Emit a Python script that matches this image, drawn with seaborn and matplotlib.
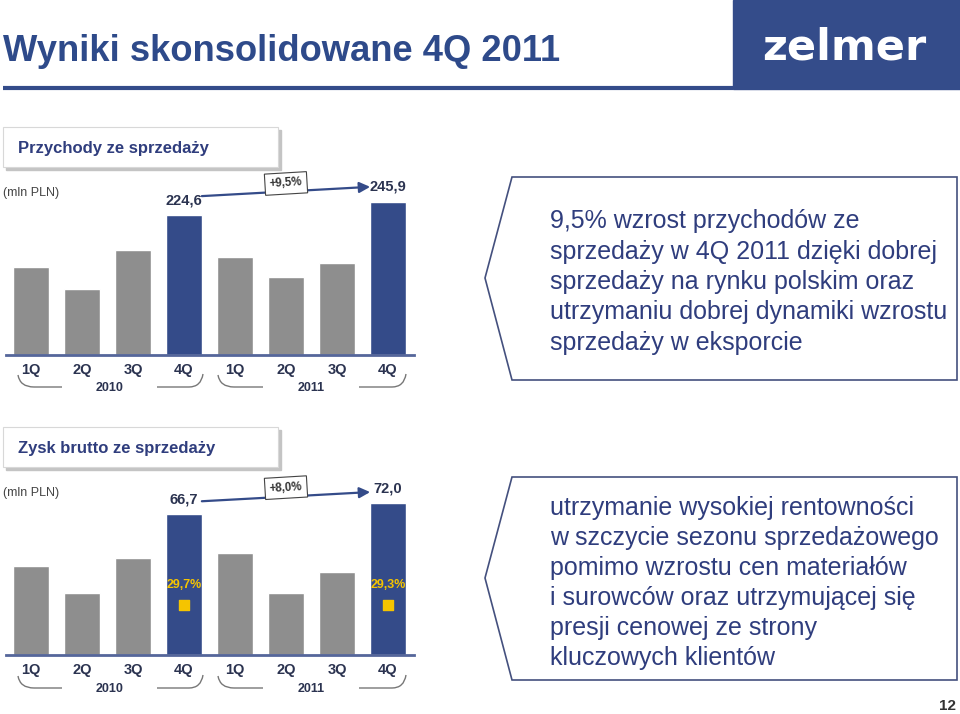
import numpy as np
import pandas as pd
import matplotlib
matplotlib.use('Agg')
import matplotlib.pyplot as plt
import matplotlib.patches as mpatches
from matplotlib.path import Path
import seaborn as sns

# data
periods = ['1Q 2010', '2Q 2010', '3Q 2010', '4Q 2010', '1Q 2011', '2Q 2011', '3Q 2011', '4Q 2011']
quarters = ['1Q', '2Q', '3Q', '4Q', '1Q', '2Q', '3Q', '4Q']
years = ['2010', '2011']
revenue = [141, 106, 168, 224.6, 158, 125, 148, 245.9]
gross_profit = [42.2, 29.2, 46.1, 66.7, 48.2, 29.5, 39.5, 72.0]
gross_margin_4q = [29.7, 29.3]
rev_growth = '+9,5%'
gp_growth = '+8,0%'

BLUE = '#344b89'
GRAY = '#8e8e8e'
TXT = '#2f3d7d'
DARK = '#2b3350'
YELLOW = '#f5c400'

sns.set_style('white')
plt.rcParams['font.family'] = ['Liberation Sans', 'DejaVu Sans']

fig = plt.figure(figsize=(9.6, 7.14), dpi=100)

# page-level overlay in pixel coordinates
ov = fig.add_axes([0, 0, 1, 1])
ov.set_xlim(0, 960)
ov.set_ylim(714, 0)
ov.axis('off')

ov.text(3, 61, 'Wyniki skonsolidowane 4Q 2011', fontsize=26.2, fontweight='bold',
        color='#2e4a8a', va='baseline')
ov.plot([3, 733], [88, 88], color='#344c8a', lw=3, solid_capstyle='butt')
ov.add_patch(mpatches.Rectangle((733, 0), 227, 89, color='#344c8a'))
ov.text(844, 47, 'zelmer', fontsize=31, fontweight='bold', color='white',
        ha='center', va='center', family='DejaVu Sans')

palette = [BLUE if p.startswith('4Q') else GRAY for p in periods]


def header(y0, label):
    ov.add_patch(mpatches.Rectangle((6, y0 + 3), 275, 40, color='#c4c4c4', zorder=1))
    ov.add_patch(mpatches.Rectangle((3, y0), 275, 40, facecolor='white',
                                    edgecolor='#d8d8d8', lw=0.8, zorder=2))
    ov.text(18, y0 + 21, label, fontsize=12, fontweight='bold', color=TXT,
            va='center', zorder=3)
    ov.text(3, y0 + 66, '(mln PLN)', fontsize=9, color='#444444', va='center')


def brackets(yb):
    for x0, x1, x2, x3, yr in [(18, 62, 157, 203, years[0]), (218, 263, 359, 406, years[1])]:
        verts = [(x0, yb - 12), (x0 + 2, yb), (x0 + 16, yb), (x1, yb)]
        codes = [Path.MOVETO, Path.CURVE3, Path.CURVE3, Path.LINETO]
        ov.add_patch(mpatches.PathPatch(Path(verts, codes), fill=False, ec='#777777', lw=1))
        verts = [(x2, yb), (x3 - 14, yb), (x3 - 2, yb), (x3, yb - 13)]
        codes = [Path.MOVETO, Path.LINETO, Path.CURVE3, Path.CURVE3]
        ov.add_patch(mpatches.PathPatch(Path(verts, codes), fill=False, ec='#777777', lw=1))
        ov.text((x1 + x2) / 2, yb + 1, yr, fontsize=9, fontweight='bold', color=DARK,
                ha='center', va='center')


def bar_chart(rect, values, ymax, growth, start_off, end_off, box_off):
    ax = fig.add_axes(rect)
    ax.patch.set_alpha(0)
    df = pd.DataFrame({'period': periods, 'value': values})
    sns.barplot(data=df, x='period', y='value', hue='period', palette=palette,
                legend=False, width=0.7, saturation=1, ax=ax)
    ax.set_xlim(-0.5, 7.5)
    ax.set_ylim(0, ymax)
    k = ymax / (rect[3] * 714)  # data units per pixel
    ax.set_xticks(range(len(periods)))
    ax.set_xticklabels(quarters, fontsize=10.5, fontweight='bold', color=DARK)
    ax.tick_params(axis='x', length=0, pad=6)
    ax.set_yticks([])
    ax.set_xlabel('')
    ax.set_ylabel('')
    sns.despine(ax=ax, left=True)
    ax.spines['bottom'].set_color('#55669a')
    ax.spines['bottom'].set_linewidth(2)
    v0, v1 = values[3], values[7]
    for i, v in [(3, v0), (7, v1)]:
        ax.annotate(f'{v:.1f}'.replace('.', ','), xy=(i, v), xytext=(0, 15),
                    textcoords='offset pixels', ha='center', va='center',
                    fontsize=10.5, fontweight='bold', color=DARK, annotation_clip=False)
    ax.annotate('', xy=(6.65, v1 + end_off * k), xytext=(3.35, v0 + start_off * k),
                arrowprops=dict(arrowstyle='-|>', color=BLUE, lw=1.6, mutation_scale=16,
                                shrinkA=0, shrinkB=0), annotation_clip=False)
    ym = (v0 + start_off * k + v1 + end_off * k) / 2
    ax.text(5.0, ym + box_off * k, growth, fontsize=8.3, fontweight='bold', color='#333333',
            ha='center', va='center', rotation=3.4, clip_on=False,
            bbox=dict(boxstyle='square,pad=0.4', fc='white', ec='#444444', lw=0.8))
    return ax, k


# revenue chart
header(127, 'Przychody ze sprzedaży')
ax1, k1 = bar_chart([5.5 / 960, 1 - 355 / 714, 408 / 960, 180 / 714], revenue, 289,
                    rev_growth, 19, 15, 8)
brackets(387)

# gross profit chart
header(427, 'Zysk brutto ze sprzedaży')
ax2, k2 = bar_chart([5.5 / 960, 1 - 655 / 714, 408 / 960, 180 / 714], gross_profit, 85.3,
                    gp_growth, 13, 11, 9)
brackets(688)
for i, m in zip([3, 7], gross_margin_4q):
    ax2.text(i, 70 * k2, f'{m:.1f}%'.replace('.', ','), fontsize=9, fontweight='bold',
             color=YELLOW, ha='center', va='center')
ax2.scatter([3, 7], [50 * k2] * 2, marker='s', s=62, color=YELLOW, zorder=5)

# comment boxes
for y0 in [177, 477]:
    ov.add_patch(mpatches.Polygon([(512, y0), (957, y0), (957, y0 + 203), (512, y0 + 203),
                                   (485, y0 + 101)], closed=True, fc='white',
                                  ec='#44507e', lw=1.2))

rev_lines = ['9,5% wzrost przychodów ze', 'sprzedaży w 4Q 2011 dzięki dobrej',
             'sprzedaży na rynku polskim oraz', 'utrzymaniu dobrej dynamiki wzrostu',
             'sprzedaży w eksporcie']
gp_lines = ['utrzymanie wysokiej rentowności', 'w szczycie sezonu sprzedażowego',
            'pomimo wzrostu cen materiałów', 'i surowców oraz utrzymującej się',
            'presji cenowej ze strony', 'kluczowych klientów']
for i, line in enumerate(rev_lines):
    ov.text(550, 228 + 30.5 * i, line, fontsize=18, color=TXT, va='baseline')
for i, line in enumerate(gp_lines):
    ov.text(550, 515 + 30 * i, line, fontsize=18, color=TXT, va='baseline')

ov.text(956, 706, '12', fontsize=11, fontweight='bold', color='#333333',
        ha='right', va='center')

fig.savefig('out.png', dpi=100)
